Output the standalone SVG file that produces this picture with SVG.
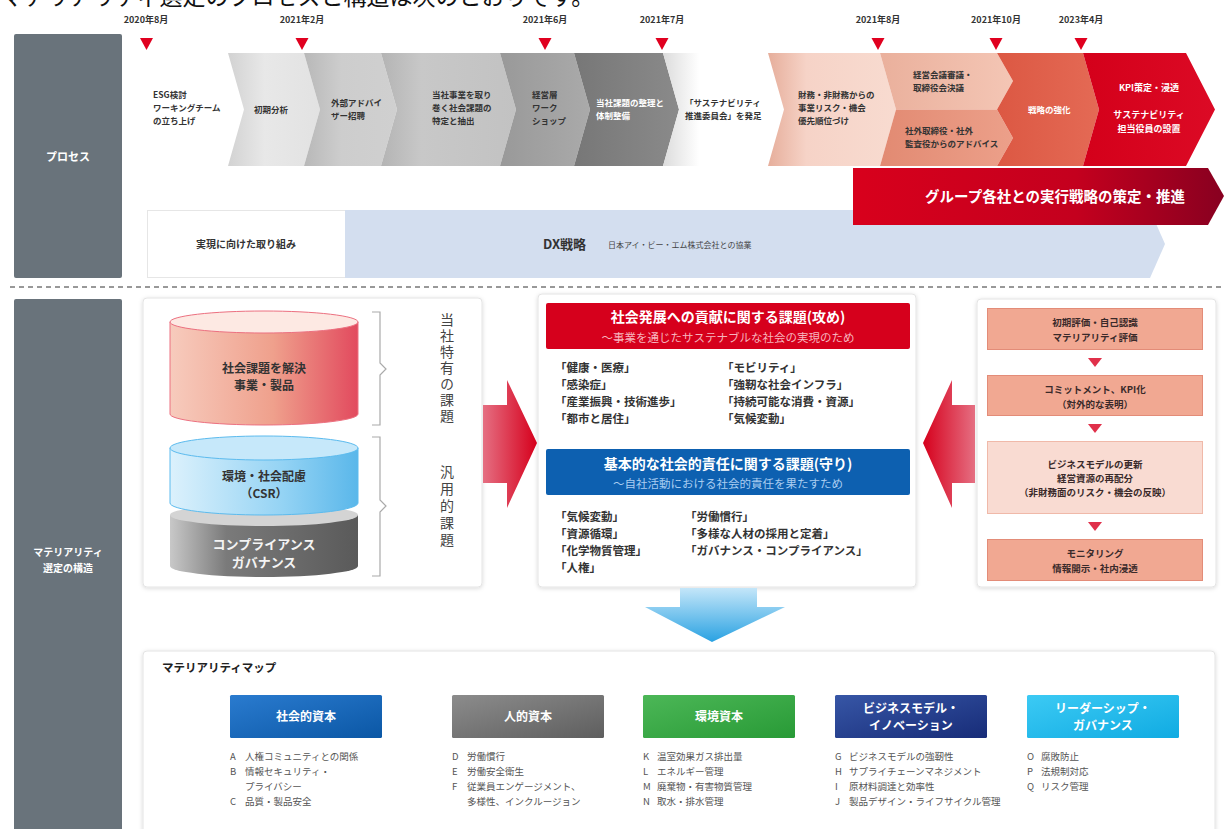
<svg xmlns="http://www.w3.org/2000/svg" width="1225" height="829" viewBox="0 0 1225 829">
<style>
text{font-family:"Noto Sans CJK JP","Noto Sans",sans-serif}
.date{font-size:9px;font-weight:bold;fill:#333;text-anchor:middle}
.pt{font-size:8.5px;font-weight:bold;fill:#333}
.ptw{font-size:8.5px;font-weight:bold;fill:#fff}
.side{font-size:11px;font-weight:bold;fill:#fff;text-anchor:middle}
.item{font-size:11.5px;font-weight:bold;fill:#333}
.hd{font-size:14px;font-weight:bold;fill:#fff;text-anchor:middle}
.rb{font-size:9.5px;font-weight:bold;fill:#3a2a2a;text-anchor:middle}
.cat{font-size:12px;font-weight:bold;fill:#fff;text-anchor:middle}
.li{font-size:9.5px;fill:#555}
.panel{fill:#fff;stroke:#e4e4e4;stroke-width:1}
.tri{fill:#e0001f}
.rtri{fill:#e0304a}
.rbox{fill:#f1a892;stroke:#e38c78;stroke-width:1}
</style>
<defs>
<filter id="sh" x="-5%" y="-5%" width="110%" height="115%"><feDropShadow dx="0" dy="1" stdDeviation="2" flood-color="#000" flood-opacity="0.15"/></filter>
<linearGradient id="g2"><stop offset="0" stop-color="#d2d2d2"/><stop offset="0.4" stop-color="#e8e8e8"/><stop offset="1" stop-color="#e2e2e2"/></linearGradient>
<linearGradient id="g3"><stop offset="0" stop-color="#b8b8b8"/><stop offset="0.4" stop-color="#cdcdcd"/><stop offset="1" stop-color="#d0d0d0"/></linearGradient>
<linearGradient id="g4"><stop offset="0" stop-color="#b4b4b4"/><stop offset="0.3" stop-color="#c8c8c8"/><stop offset="1" stop-color="#c2c2c2"/></linearGradient>
<linearGradient id="g5"><stop offset="0" stop-color="#999"/><stop offset="1" stop-color="#aaa"/></linearGradient>
<linearGradient id="g6"><stop offset="0" stop-color="#777"/><stop offset="1" stop-color="#8a8a8a"/></linearGradient>
<linearGradient id="g7"><stop offset="0" stop-color="#dcdcdc"/><stop offset="0.3" stop-color="#fff"/><stop offset="1" stop-color="#fff"/></linearGradient>
<linearGradient id="g8"><stop offset="0" stop-color="#e6ae9b"/><stop offset="0.3" stop-color="#f6d3c7"/><stop offset="1" stop-color="#f8dbd0"/></linearGradient>
<linearGradient id="g9a"><stop offset="0" stop-color="#eab09c"/><stop offset="1" stop-color="#f4c6b5"/></linearGradient>
<linearGradient id="g9b"><stop offset="0" stop-color="#e28a72"/><stop offset="1" stop-color="#eca08a"/></linearGradient>
<linearGradient id="g10"><stop offset="0" stop-color="#dc5843"/><stop offset="1" stop-color="#e46a55"/></linearGradient>
<linearGradient id="g11"><stop offset="0" stop-color="#d4001a"/><stop offset="1" stop-color="#dc0a25"/></linearGradient>
<linearGradient id="gbar"><stop offset="0" stop-color="#d8001c"/><stop offset="0.6" stop-color="#c4001e"/><stop offset="1" stop-color="#880020"/></linearGradient>
<linearGradient id="gred"><stop offset="0" stop-color="#f7cbbd"/><stop offset="0.55" stop-color="#efa08c"/><stop offset="1" stop-color="#e24a5e"/></linearGradient>
<linearGradient id="gblue"><stop offset="0" stop-color="#dcf1fc"/><stop offset="0.6" stop-color="#94d3f4"/><stop offset="1" stop-color="#5ab7ea"/></linearGradient>
<linearGradient id="ggray"><stop offset="0" stop-color="#c8c8c8"/><stop offset="0.3" stop-color="#7a7a7a"/><stop offset="1" stop-color="#5a5a5a"/></linearGradient>
<linearGradient id="garR"><stop offset="0" stop-color="#e56f82"/><stop offset="1" stop-color="#d6001c"/></linearGradient>
<linearGradient id="garL"><stop offset="0" stop-color="#d6001c"/><stop offset="1" stop-color="#e56f82"/></linearGradient>
<linearGradient id="gdown" x1="0" y1="0" x2="0" y2="1"><stop offset="0" stop-color="#c4e6f9"/><stop offset="1" stop-color="#2aa2e2"/></linearGradient>
<linearGradient id="gc1" x1="0" y1="0" x2="1" y2="1"><stop offset="0" stop-color="#2a7bcf"/><stop offset="1" stop-color="#0b57a5"/></linearGradient>
<linearGradient id="gc2" x1="0" y1="0" x2="1" y2="1"><stop offset="0" stop-color="#8c8c8c"/><stop offset="1" stop-color="#5e5e5e"/></linearGradient>
<linearGradient id="gc3" x1="0" y1="0" x2="1" y2="1"><stop offset="0" stop-color="#4cb757"/><stop offset="1" stop-color="#289a36"/></linearGradient>
<linearGradient id="gc4" x1="0" y1="0" x2="1" y2="1"><stop offset="0" stop-color="#3756a6"/><stop offset="1" stop-color="#172c78"/></linearGradient>
<linearGradient id="gc5" x1="0" y1="0" x2="1" y2="1"><stop offset="0" stop-color="#3ccaf4"/><stop offset="1" stop-color="#10abe2"/></linearGradient>
</defs>
<rect width="1225" height="829" fill="#fff"/>
<text x="0" y="5" style="font-size:23px;fill:#111">マテリアリティ選定のプロセスと構造は次のとおりです。</text>

<g id="sidebar-process"><rect x="14" y="34" width="108" height="244" rx="2" fill="#69737b"/><text class="side" x="68" y="161">プロセス</text></g>
<g id="sidebar-structure"><rect x="14" y="299" width="108" height="535" rx="2" fill="#69737b"/><text class="side" x="68" y="556" style="font-size:10px">マテリアリティ</text><text class="side" x="68" y="572" style="font-size:10px">選定の構造</text></g>

<g id="dates">
<text class="date" x="146" y="23">2020年8月</text>
<text class="date" x="302" y="23">2021年2月</text>
<text class="date" x="545" y="23">2021年6月</text>
<text class="date" x="662" y="23">2021年7月</text>
<text class="date" x="878" y="23">2021年8月</text>
<text class="date" x="996" y="23">2021年10月</text>
<text class="date" x="1081" y="23">2023年4月</text>
</g>

<g id="process">
<polygon points="147,53 228,53 244,109.5 228,166 147,166" fill="#fff"/>
<polygon points="228,53 304,53 320,109.5 304,166 228,166 244,109.5" fill="url(#g2)"/>
<polygon points="304,53 381,53 397,109.5 381,166 304,166 320,109.5" fill="url(#g3)"/>
<polygon points="381,53 500,53 516,109.5 500,166 381,166 397,109.5" fill="url(#g4)"/>
<polygon points="500,53 574,53 590,109.5 574,166 500,166 516,109.5" fill="url(#g5)"/>
<polygon points="574,53 663,53 679,109.5 663,166 574,166 590,109.5" fill="url(#g6)"/>
<polygon points="663,53 768,53 784,109.5 768,166 663,166 679,109.5" fill="url(#g7)"/>
<polygon points="768,53 880,53 896,109.5 880,166 768,166 784,109.5" fill="url(#g8)"/>
<polygon points="880,53 997,53 1013,81 997,109.5 896,109.5" fill="url(#g9a)"/>
<polygon points="896,109.5 997,109.5 1013,138 997,166 880,166" fill="url(#g9b)"/>
<polygon points="997,53 1083,53 1099,109.5 1083,166 997,166 1013,138 997,109.5 1013,81" fill="url(#g10)"/>
<polygon points="1083,53 1186,53 1215,109.5 1186,166 1083,166 1099,109.5" fill="url(#g11)"/>
<text class="pt" x="153" y="98">ESG検討</text><text class="pt" x="153" y="111">ワーキングチーム</text><text class="pt" x="153" y="124">の立ち上げ</text>
<text class="pt" x="254" y="113">初期分析</text>
<text class="pt" x="331" y="106">外部アドバイ</text><text class="pt" x="331" y="119">ザー招聘</text>
<text class="pt" x="432" y="98">当社事業を取り</text><text class="pt" x="432" y="111">巻く社会課題の</text><text class="pt" x="432" y="124">特定と抽出</text>
<text class="pt" x="532" y="98">経営層</text><text class="pt" x="532" y="111">ワーク</text><text class="pt" x="532" y="124">ショップ</text>
<text class="ptw" x="596" y="106">当社課題の整理と</text><text class="ptw" x="596" y="119">体制整備</text>
<text class="pt" x="685" y="106">「サステナビリティ</text><text class="pt" x="685" y="119">推進委員会」を発足</text>
<text class="pt" x="798" y="98">財務・非財務からの</text><text class="pt" x="798" y="111">事業リスク・機会</text><text class="pt" x="798" y="124">優先順位づけ</text>
<text class="pt" x="913" y="78">経営会議審議・</text><text class="pt" x="913" y="91">取締役会決議</text>
<text class="pt" x="905" y="134">社外取締役・社外</text><text class="pt" x="905" y="147">監査役からのアドバイス</text>
<text class="ptw" x="1028" y="113">戦略の強化</text>
<text class="ptw" x="1149" y="91" text-anchor="middle" style="font-size:9px">KPI策定・浸透</text>
<text class="ptw" x="1149" y="118" text-anchor="middle" style="font-size:9px">サステナビリティ</text>
<text class="ptw" x="1149" y="132" text-anchor="middle" style="font-size:9px">担当役員の設置</text>
</g>

<g id="dx-row">
<rect x="147.5" y="210.5" width="198" height="67" fill="#fff" stroke="#e6e6e6"/>
<polygon points="345,210 1150,210 1165,244 1150,278 345,278" fill="#d3deef"/>
<text x="246" y="248" text-anchor="middle" style="font-size:10px;font-weight:bold;fill:#333">実現に向けた取り組み</text>
<text x="543" y="249" style="font-size:13px;font-weight:bold;fill:#333">DX戦略</text>
<text x="608" y="248" style="font-size:8px;fill:#444">日本アイ・ビー・エム株式会社との協業</text>
</g>

<g id="group-bar">
<polygon points="853,168 1208,168 1224,196 1208,225 853,225" fill="url(#gbar)"/>
<text x="1055" y="202" text-anchor="middle" style="font-size:14.5px;font-weight:bold;fill:#fff">グループ各社との実行戦略の策定・推進</text>
</g>

<line x1="10" y1="287" x2="1225" y2="287" stroke="#333" stroke-width="1" stroke-dasharray="5 4"/>

<g id="left-panel">
<rect class="panel" x="143" y="298" width="339" height="289" rx="4" filter="url(#sh)"/>
<path d="M170,515 L170,566 A94,11 0 0 0 358,566 L358,515 Z" fill="url(#ggray)"/>
<ellipse cx="264" cy="515" rx="94" ry="11" fill="#d4d4d4"/>
<path d="M170,448 L170,503 A94,12 0 0 0 358,503 L358,448 Z" fill="url(#gblue)" stroke="#5cbbee" stroke-width="1"/>
<ellipse cx="264" cy="448" rx="94" ry="12" fill="#c6e8fa" stroke="#5cbbee" stroke-width="1"/>
<path d="M170,322 L170,414 A94,11 0 0 0 358,414 L358,322 Z" fill="url(#gred)" stroke="#ec7080" stroke-width="1"/>
<ellipse cx="264" cy="322" rx="94" ry="11" fill="#fde9e3" stroke="#ec7080" stroke-width="1"/>
<text x="264" y="373" text-anchor="middle" style="font-size:12px;font-weight:bold;fill:#333">社会課題を解決</text>
<text x="264" y="390" text-anchor="middle" style="font-size:12px;font-weight:bold;fill:#333">事業・製品</text>
<text x="264" y="481" text-anchor="middle" style="font-size:12px;font-weight:bold;fill:#333">環境・社会配慮</text>
<text x="264" y="498" text-anchor="middle" style="font-size:12px;font-weight:bold;fill:#333">（CSR）</text>
<text x="264" y="549" text-anchor="middle" style="font-size:13px;font-weight:bold;fill:#f4f4f4">コンプライアンス</text>
<text x="264" y="567" text-anchor="middle" style="font-size:13px;font-weight:bold;fill:#f4f4f4">ガバナンス</text>
<path d="M372,312 H380 V363 L386,369 L380,375 V425 H372" fill="none" stroke="#aaa" stroke-width="1.2"/>
<path d="M372,437 H380 V500 L386,506 L380,512 V576 H372" fill="none" stroke="#aaa" stroke-width="1.2"/>
<text x="447" y="313" style="font-size:14px;fill:#444;writing-mode:vertical-rl;letter-spacing:2px">当社特有の課題</text>
<text x="447" y="465" style="font-size:14px;fill:#444;writing-mode:vertical-rl;letter-spacing:3px">汎用的課題</text>
</g>

<g id="center-panel">
<rect class="panel" x="538" y="294" width="378" height="293" rx="4" filter="url(#sh)"/>
<rect x="546" y="303" width="364" height="46" rx="2" fill="#d6001c"/>
<text class="hd" x="728" y="322">社会発展への貢献に関する課題(攻め)</text>
<text x="728" y="342" text-anchor="middle" style="font-size:11.5px;fill:#f6b4bd">～事業を通じたサステナブルな社会の実現のため</text>
<text class="item" x="555" y="372">「健康・医療」</text>
<text class="item" x="555" y="389">「感染症」</text>
<text class="item" x="555" y="406">「産業振興・技術進歩」</text>
<text class="item" x="555" y="423">「都市と居住」</text>
<text class="item" x="722" y="372">「モビリティ」</text>
<text class="item" x="722" y="389">「強靭な社会インフラ」</text>
<text class="item" x="722" y="406">「持続可能な消費・資源」</text>
<text class="item" x="722" y="423">「気候変動」</text>
<rect x="546" y="449" width="364" height="46" rx="2" fill="#0d60b0"/>
<text class="hd" x="728" y="469">基本的な社会的責任に関する課題(守り)</text>
<text x="728" y="488" text-anchor="middle" style="font-size:11.5px;fill:#a9cdf0">～自社活動における社会的責任を果たすため</text>
<text class="item" x="555" y="521">「気候変動」</text>
<text class="item" x="555" y="538">「資源循環」</text>
<text class="item" x="555" y="555">「化学物質管理」</text>
<text class="item" x="555" y="572">「人権」</text>
<text class="item" x="685" y="521">「労働慣行」</text>
<text class="item" x="685" y="538">「多様な人材の採用と定着」</text>
<text class="item" x="685" y="555">「ガバナンス・コンプライアンス」</text>
</g>

<g id="right-panel">
<rect class="panel" x="977" y="299" width="239" height="288" rx="4" filter="url(#sh)"/>
<rect class="rbox" x="987.5" y="308.5" width="215" height="41"/>
<text class="rb" x="1095" y="326">初期評価・自己認識</text><text class="rb" x="1095" y="341">マテリアリティ評価</text>
<rect class="rbox" x="987.5" y="375.5" width="215" height="40"/>
<text class="rb" x="1095" y="393">コミットメント、KPI化</text><text class="rb" x="1095" y="408">（対外的な表明）</text>
<rect x="987.5" y="441.5" width="215" height="72" fill="#f9dbd2" stroke="#f0b9a9"/>
<text class="rb" x="1095" y="468">ビジネスモデルの更新</text><text class="rb" x="1095" y="482">経営資源の再配分</text><text class="rb" x="1095" y="496">（非財務面のリスク・機会の反映）</text>
<rect class="rbox" x="987.5" y="539.5" width="215" height="41"/>
<text class="rb" x="1095" y="557">モニタリング</text><text class="rb" x="1095" y="572">情報開示・社内浸透</text>
</g>

<g id="map-panel">
<rect class="panel" x="143" y="651" width="1072" height="190" rx="4" filter="url(#sh)"/>
<text x="162" y="672" style="font-size:11.5px;font-weight:bold;fill:#222">マテリアリティマップ</text>
<g id="cat-social"><rect x="230" y="695" width="152" height="43" rx="1.5" fill="url(#gc1)"/><text class="cat" x="306" y="721">社会的資本</text>
<text class="li" x="230" y="760">A</text><text class="li" x="245" y="760">人権コミュニティとの関係</text>
<text class="li" x="230" y="775">B</text><text class="li" x="245" y="775">情報セキュリティ・</text>
<text class="li" x="245" y="790">プライバシー</text>
<text class="li" x="230" y="805">C</text><text class="li" x="245" y="805">品質・製品安全</text></g>
<g id="cat-human"><rect x="452" y="695" width="152" height="43" rx="1.5" fill="url(#gc2)"/><text class="cat" x="528" y="721">人的資本</text>
<text class="li" x="452" y="760">D</text><text class="li" x="467" y="760">労働慣行</text>
<text class="li" x="452" y="775">E</text><text class="li" x="467" y="775">労働安全衛生</text>
<text class="li" x="452" y="790">F</text><text class="li" x="467" y="790">従業員エンゲージメント、</text>
<text class="li" x="467" y="805">多様性、インクルージョン</text></g>
<g id="cat-env"><rect x="643" y="695" width="152" height="43" rx="1.5" fill="url(#gc3)"/><text class="cat" x="719" y="721">環境資本</text>
<text class="li" x="643" y="760">K</text><text class="li" x="657" y="760">温室効果ガス排出量</text>
<text class="li" x="643" y="775">L</text><text class="li" x="657" y="775">エネルギー管理</text>
<text class="li" x="643" y="790">M</text><text class="li" x="657" y="790">廃棄物・有害物質管理</text>
<text class="li" x="643" y="805">N</text><text class="li" x="657" y="805">取水・排水管理</text></g>
<g id="cat-business"><rect x="835" y="695" width="152" height="43" rx="1.5" fill="url(#gc4)"/><text class="cat" x="911" y="713">ビジネスモデル・</text><text class="cat" x="911" y="730">イノベーション</text>
<text class="li" x="835" y="760">G</text><text class="li" x="849" y="760">ビジネスモデルの強靭性</text>
<text class="li" x="835" y="775">H</text><text class="li" x="849" y="775">サプライチェーンマネジメント</text>
<text class="li" x="835" y="790">I</text><text class="li" x="849" y="790">原材料調達と効率性</text>
<text class="li" x="835" y="805">J</text><text class="li" x="849" y="805">製品デザイン・ライフサイクル管理</text></g>
<g id="cat-leadership"><rect x="1027" y="695" width="152" height="43" rx="1.5" fill="url(#gc5)"/><text class="cat" x="1103" y="713">リーダーシップ・</text><text class="cat" x="1103" y="730">ガバナンス</text>
<text class="li" x="1027" y="760">O</text><text class="li" x="1041" y="760">腐敗防止</text>
<text class="li" x="1027" y="775">P</text><text class="li" x="1041" y="775">法規制対応</text>
<text class="li" x="1027" y="790">Q</text><text class="li" x="1041" y="790">リスク管理</text></g>
</g>

<g id="connectors">
<polygon class="tri" points="140,38 153,38 146.5,50"/>
<polygon class="tri" points="295.5,38 308.5,38 302,50"/>
<polygon class="tri" points="538.5,38 551.5,38 545,50"/>
<polygon class="tri" points="655.5,38 668.5,38 662,50"/>
<polygon class="tri" points="871.5,38 884.5,38 878,50"/>
<polygon class="tri" points="989.5,38 1002.5,38 996,50"/>
<polygon class="tri" points="1074.5,38 1087.5,38 1081,50"/>
<polygon points="483,405 507,405 507,380 537,443 507,508 507,483 483,483" fill="url(#garR)"/>
<polygon points="975,405 952,405 952,380 923,443 952,508 952,483 975,483" fill="url(#garL)"/>
<polygon points="680,588 757,588 757,607 785,607 712,642 645,607 680,607" fill="url(#gdown)"/>
<polygon class="rtri" points="1088,358 1102,358 1095,367"/>
<polygon class="rtri" points="1088,424 1102,424 1095,433"/>
<polygon class="rtri" points="1088,522 1102,522 1095,531"/>
</g>
</svg>
